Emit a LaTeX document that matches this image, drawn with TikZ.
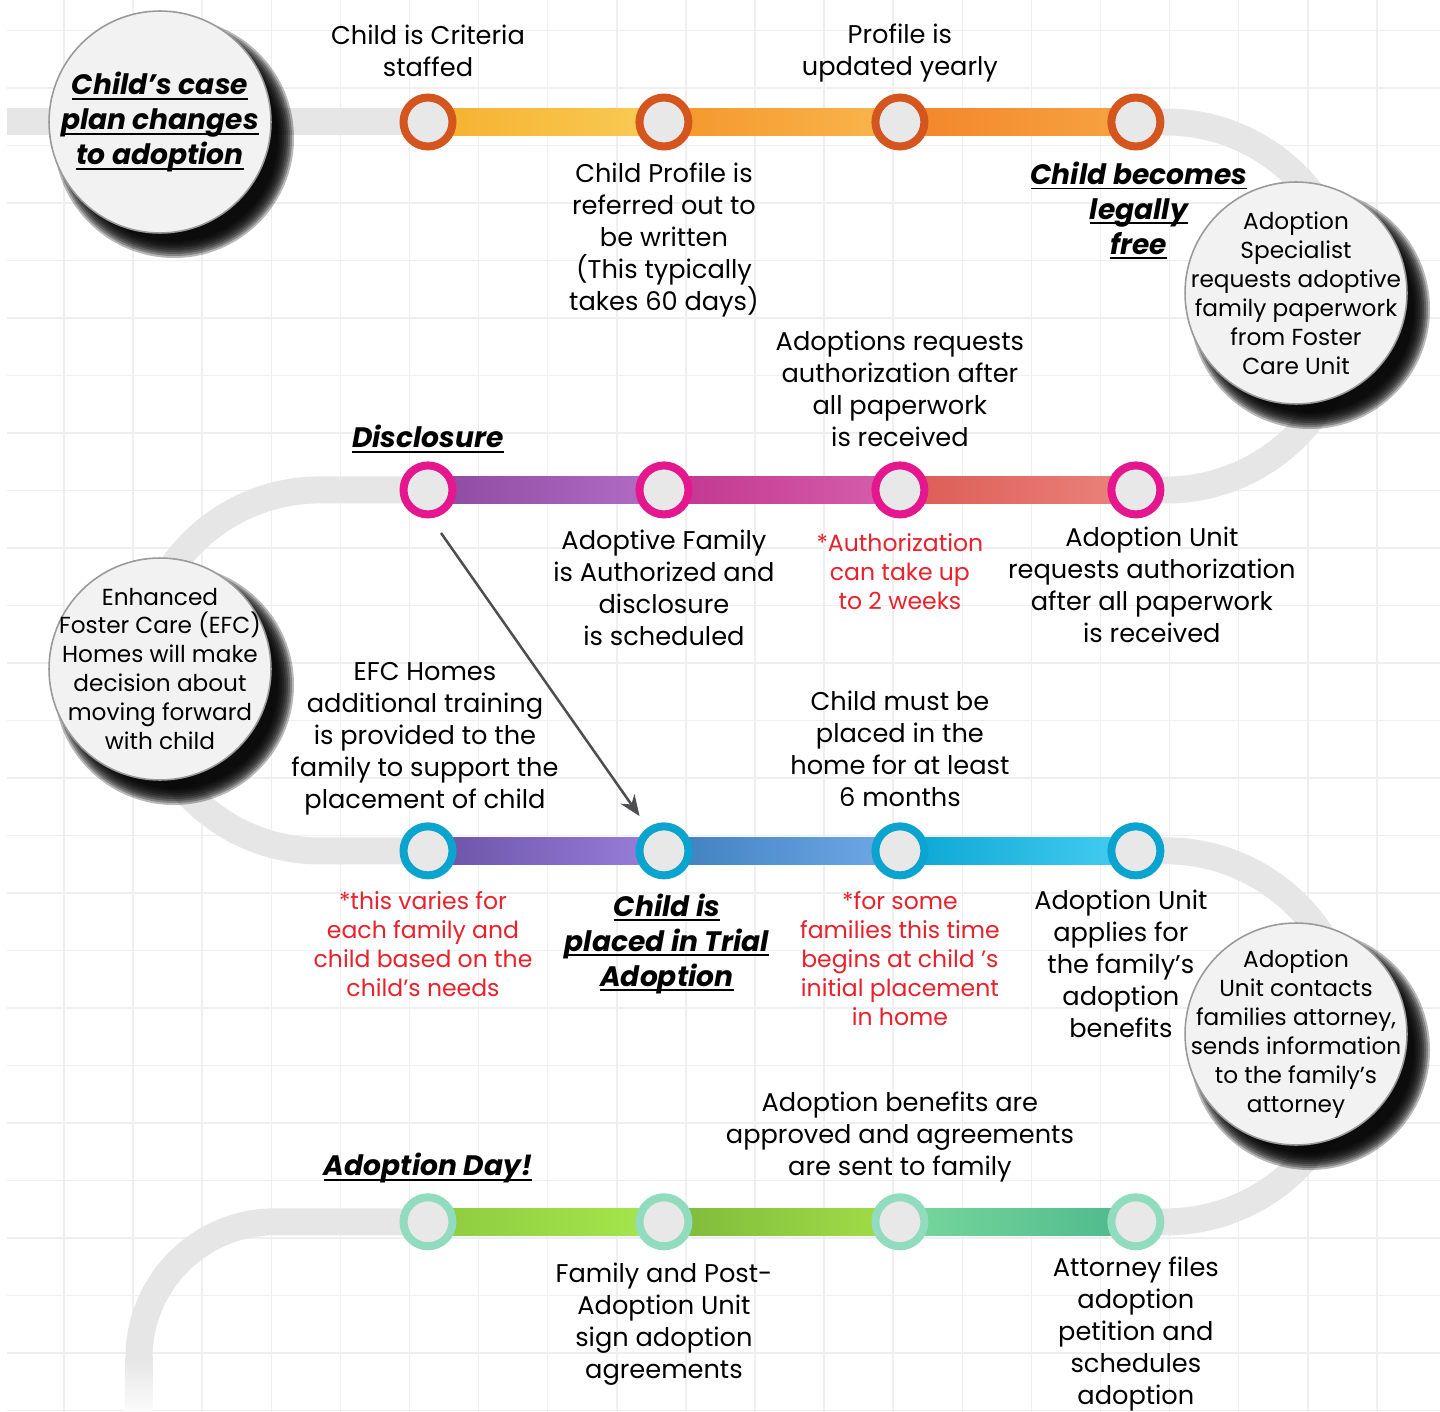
\documentclass[tikz,border=0pt]{standalone}
\usepackage{fontspec}
\setmainfont{Poppins}
\usetikzlibrary{positioning,calc,arrows.meta,backgrounds}

\definecolor{trackgrey}{HTML}{E6E6E6}
\definecolor{stopfill}{HTML}{E8E8E8}
\definecolor{discfill}{HTML}{F2F2F2}
\definecolor{discrim}{HTML}{9A9A9A}
\definecolor{gridgrey}{HTML}{EFEFEF}
\definecolor{notered}{HTML}{E8212B}
\definecolor{arrowgrey}{HTML}{4D4D52}
% ring colours, one per row
\definecolor{ringA}{HTML}{D4561E}
\definecolor{ringB}{HTML}{E5178F}
\definecolor{ringC}{HTML}{0BA4CF}
\definecolor{ringD}{HTML}{91DCBF}
% track gradients
\definecolor{orA}{HTML}{F6B02F}\definecolor{orB}{HTML}{F8CC55}
\definecolor{orC}{HTML}{F4962A}\definecolor{orD}{HTML}{F9B74E}
\definecolor{orE}{HTML}{F28528}\definecolor{orF}{HTML}{F7A443}
\definecolor{pkA}{HTML}{8C4A9E}\definecolor{pkB}{HTML}{B36DC8}
\definecolor{pkC}{HTML}{C1358F}\definecolor{pkD}{HTML}{D660AC}
\definecolor{pkE}{HTML}{DC5A54}\definecolor{pkF}{HTML}{EA857C}
\definecolor{blA}{HTML}{6A52A6}\definecolor{blB}{HTML}{9B7FDD}
\definecolor{blC}{HTML}{3D7FBE}\definecolor{blD}{HTML}{72A9E8}
\definecolor{blE}{HTML}{0AA5D2}\definecolor{blF}{HTML}{47CEF2}
\definecolor{grA}{HTML}{8CCB3F}\definecolor{grB}{HTML}{A6E84D}
\definecolor{grC}{HTML}{7DB93A}\definecolor{grD}{HTML}{A3DE47}
\definecolor{grE}{HTML}{78D89C}\definecolor{grF}{HTML}{4DB88C}

\newcommand{\lblfont}{\fontsize{14.6}{18.2}\selectfont}
\newcommand{\notefont}{\fontsize{13.4}{16.6}\selectfont}
\newcommand{\discfont}{\fontsize{13.2}{16.5}\selectfont}
\newcommand{\headfont}{\fontsize{16}{19.9}\selectfont\bfseries\itshape}
% underlined heading line
\newsavebox{\hdbox}
\newcommand{\hdline}[1]{\sbox{\hdbox}{#1}\rlap{\rule[-2.9pt]{\wd\hdbox}{1.1pt}}\usebox{\hdbox}}
% coloured piece of track between two stations
\newcommand{\railpiece}[4]{\shade[left color=#3, right color=#4] ($(#1.center)+(0,-13.5)$) rectangle ($(#2.center)+(0,13.5)$);}

\tikzset{
  track/.style    = {line width=0.54cm, trackgrey},
  station/.style  = {circle, draw=#1, line width=0.16cm, fill=stopfill, minimum size=0.98cm, inner sep=0pt},
  bigdisc/.style  = {circle, fill=discfill, draw=discrim, line width=0.9pt, minimum size=4.44cm, inner sep=-0.5cm,
                     align=center, font=\discfont},
  lbl/.style      = {align=center, font=\lblfont, inner sep=0pt},
  note/.style     = {align=center, font=\notefont, text=notered, inner sep=0pt},
  headline/.style = {align=center, font=\headfont, inner sep=0pt},
  pointer/.style  = {-{Stealth[length=0.42cm, width=0.34cm]}, line width=0.05cm, arrowgrey},
  gridline/.style = {gridgrey, line width=0.03cm}
}

\begin{document}
\begin{tikzpicture}[x=0.02cm, y=-0.02cm]
  \useasboundingbox (0,0) rectangle (1440,1412);

  % stations
  \node[station=ringA] (s11) at (428,122) {};
  \node[station=ringA, right=3.58cm of s11] (s12) {};
  \node[station=ringA, right=3.58cm of s12] (s13) {};
  \node[station=ringA, right=3.58cm of s13] (s14) {};
  \node[station=ringB, below=6.22cm of s11] (s21) {};
  \node[station=ringB, right=3.58cm of s21] (s22) {};
  \node[station=ringB, right=3.58cm of s22] (s23) {};
  \node[station=ringB, right=3.58cm of s23] (s24) {};
  \node[station=ringC, below=6.08cm of s21] (s31) {};
  \node[station=ringC, right=3.58cm of s31] (s32) {};
  \node[station=ringC, right=3.58cm of s32] (s33) {};
  \node[station=ringC, right=3.58cm of s33] (s34) {};
  \node[station=ringD, below=6.28cm of s31] (s41) {};
  \node[station=ringD, right=3.58cm of s41] (s42) {};
  \node[station=ringD, right=3.58cm of s42] (s43) {};
  \node[station=ringD, right=3.58cm of s43] (s44) {};

  % big discs
  \node[bigdisc, font=\headfont] (d1) at (160,122) {\hdline{Child’s case}\\\hdline{plan changes}\\\hdline{to adoption}};
  \node[bigdisc] (d2) at (1296,293) {Adoption\\Specialist\\requests adoptive\\family paperwork\\from Foster\\Care Unit};
  \node[bigdisc] (d3) at (160,669) {Enhanced\\Foster Care (EFC)\\Homes will make\\decision about\\moving forward\\with child};
  \node[bigdisc] (d4) at (1296,1034) {Adoption\\Unit contacts\\families attorney,\\sends information\\to the family’s\\attorney};

  \begin{scope}[on background layer]
    \fill[white] (0,0) rectangle (1440,1412);
    % grid
    \foreach \k in {0,...,21} \draw[gridline] ({-5.1+69.1*\k},0) -- ++(0,1412);
    \foreach \k in {0,...,24} \draw[gridline] (7,{30.5+57.5*\k}) -- ++(1433,0);
    % grey track
    \coordinate (trackstart) at (7,122);
    \draw[track] (trackstart) -- (s11.center);
    \draw[track] (s14.center) -- ++(30,0) arc[start angle=-90, end angle=90, radius=184] -- (s24.center);
    \draw[track] (s21.center) -- ++(-108,0) arc[start angle=-90, end angle=-270, radius=180.5] -- (s31.center);
    \draw[track] (s34.center) -- ++(30,0) arc[start angle=-90, end angle=90, radius=185.5] -- (s44.center);
    \draw[track] (s41.center) -- ++(-153,0) arc[start angle=-90, end angle=-180, radius=136] coordinate (trackbend);
    \shade[top color=trackgrey, bottom color=trackgrey!15] ($(trackbend)+(-13.5,0)$) rectangle ($(trackbend)+(13.5,54)$);
    % coloured track
    \railpiece{s11}{s12}{orA}{orB}
    \railpiece{s12}{s13}{orC}{orD}
    \railpiece{s13}{s14}{orE}{orF}
    \railpiece{s21}{s22}{pkA}{pkB}
    \railpiece{s22}{s23}{pkC}{pkD}
    \railpiece{s23}{s24}{pkE}{pkF}
    \railpiece{s31}{s32}{blA}{blB}
    \railpiece{s32}{s33}{blC}{blD}
    \railpiece{s33}{s34}{blE}{blF}
    \railpiece{s41}{s42}{grA}{grB}
    \railpiece{s42}{s43}{grC}{grD}
    \railpiece{s43}{s44}{grE}{grF}
    % soft shadows under the discs
    \foreach \d in {d1,d2,d3,d4}
      \foreach \r in {120,118,...,104}
        \fill[black, opacity=0.28] ($(\d.center)+(14,16)$) circle[radius=\r];
  \end{scope}

  % row 1
  \node[lbl, above=0.32cm of s11] (t11) {Child is Criteria\\staffed};
  \node[lbl, above=0.22cm of s13] (t13) {Profile is\\updated yearly};
  \node[lbl, below=0.25cm of s12] (b12) {Child Profile is\\referred out to\\be written\\(This typically\\takes 60 days)};
  \node[headline, below=0.22cm of s14, xshift=0.06cm] (b14) {\hdline{Child becomes}\\\hdline{legally}\\\hdline{free}};
  % row 2
  \node[headline, above=0.17cm of s21] (t21) {\hdline{Disclosure}};
  \node[lbl, above=0.28cm of s23] (t23) {Adoptions requests\\authorization after\\all paperwork\\is received};
  \node[lbl, below=0.23cm of s22] (b22) {Adoptive Family\\is Authorized and\\disclosure\\is scheduled};
  \node[note, below=0.29cm of s23] (b23) {*Authorization\\can take up\\to 2 weeks};
  \node[lbl, below=0.17cm of s24, xshift=0.32cm] (b24) {Adoption Unit\\requests authorization\\after all paperwork\\is received};
  % row 3
  \node[lbl, above=0.14cm of s31, xshift=-0.06cm] (t31) {EFC Homes\\additional training\\is provided to the\\family to support the\\placement of child};
  \node[lbl, above=0.3cm of s33] (t33) {Child must be\\placed in the\\home for at least\\6 months};
  \node[note, below=0.23cm of s31, xshift=-0.1cm] (b31) {*this varies for\\each family and\\child based on the\\child’s needs};
  \node[headline, below=0.28cm of s32, xshift=0.06cm] (b32) {\hdline{Child is}\\\hdline{placed in Trial}\\\hdline{Adoption}};
  \node[note, below=0.23cm of s33] (b33) {*for some\\families this time\\begins at child ’s\\initial placement\\in home};
  \node[lbl, below=0.21cm of s34, xshift=-0.3cm] (b34) {Adoption Unit\\applies for\\the family’s\\adoption\\benefits};
  % row 4
  \node[headline, above=0.19cm of s41] (t41) {\hdline{Adoption Day!}};
  \node[lbl, above=0.22cm of s43] (t43) {Adoption benefits are\\approved and agreements\\are sent to family};
  \node[lbl, below=0.25cm of s42] (b42) {Family and Post-\\Adoption Unit\\sign adoption\\agreements};
  \node[lbl, below=0.12cm of s44] (b44) {Attorney files\\adoption\\petition and\\schedules\\adoption};

  % disclosure leads to trial adoption
  \coordinate (arrtail) at (441,533);
  \draw[pointer, shorten >=0.28cm] (arrtail) -- (s32);
\end{tikzpicture}
\end{document}
